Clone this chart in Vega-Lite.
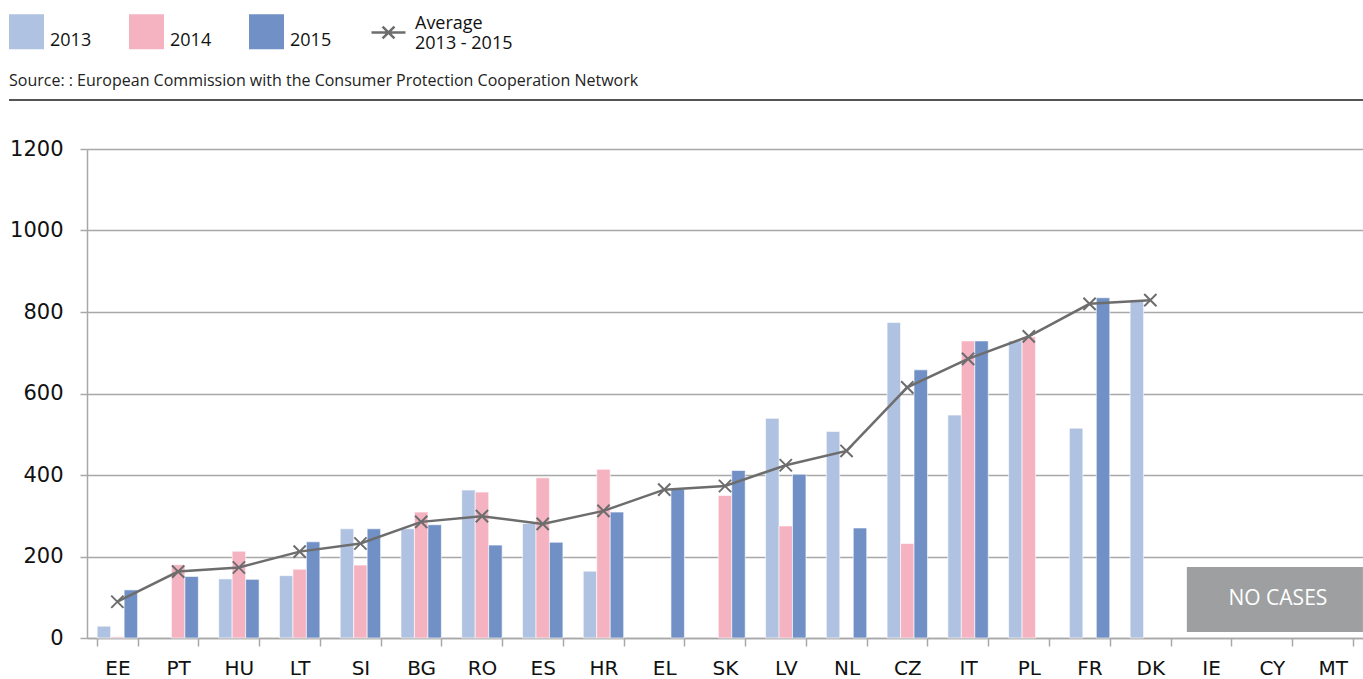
{
  "$schema": "https://vega.github.io/schema/vega-lite/v6.json",
  "autosize": "none",
  "width": 1276,
  "height": 489,
  "padding": {"left": 87, "top": 149, "right": 0, "bottom": 41},
  "background": "white",
  "config": {
    "font": "Open Sans",
    "view": {"stroke": null}
  },
  "title": {
    "text": "Source: : European Commission with the Consumer Protection Cooperation Network",
    "anchor": "start",
    "frame": "group",
    "font": "Open Sans",
    "fontSize": 16,
    "fontWeight": "normal",
    "color": "#222",
    "dx": -78,
    "dy": 88,
    "offset": 0,
    "baseline": "alphabetic"
  },
  "resolve": {"scale": {"x": "independent"}},
  "datasets": {
    "bars": [
      {"country": "EE", "year": "2013", "value": 29},
      {"country": "EE", "year": "2014", "value": 3},
      {"country": "EE", "year": "2015", "value": 118},
      {"country": "PT", "year": "2014", "value": 180},
      {"country": "PT", "year": "2015", "value": 151},
      {"country": "HU", "year": "2013", "value": 145},
      {"country": "HU", "year": "2014", "value": 213},
      {"country": "HU", "year": "2015", "value": 144},
      {"country": "LT", "year": "2013", "value": 153},
      {"country": "LT", "year": "2014", "value": 169},
      {"country": "LT", "year": "2015", "value": 236},
      {"country": "SI", "year": "2013", "value": 268},
      {"country": "SI", "year": "2014", "value": 179},
      {"country": "SI", "year": "2015", "value": 268},
      {"country": "BG", "year": "2013", "value": 268},
      {"country": "BG", "year": "2014", "value": 309},
      {"country": "BG", "year": "2015", "value": 278},
      {"country": "RO", "year": "2013", "value": 363},
      {"country": "RO", "year": "2014", "value": 358},
      {"country": "RO", "year": "2015", "value": 228},
      {"country": "ES", "year": "2013", "value": 281},
      {"country": "ES", "year": "2014", "value": 393},
      {"country": "ES", "year": "2015", "value": 235},
      {"country": "HR", "year": "2013", "value": 164},
      {"country": "HR", "year": "2014", "value": 414},
      {"country": "HR", "year": "2015", "value": 309},
      {"country": "EL", "year": "2015", "value": 365},
      {"country": "SK", "year": "2014", "value": 350},
      {"country": "SK", "year": "2015", "value": 411},
      {"country": "LV", "year": "2013", "value": 539},
      {"country": "LV", "year": "2014", "value": 275},
      {"country": "LV", "year": "2015", "value": 402},
      {"country": "NL", "year": "2013", "value": 507},
      {"country": "NL", "year": "2015", "value": 270},
      {"country": "CZ", "year": "2013", "value": 774},
      {"country": "CZ", "year": "2014", "value": 232},
      {"country": "CZ", "year": "2015", "value": 658},
      {"country": "IT", "year": "2013", "value": 547},
      {"country": "IT", "year": "2014", "value": 729},
      {"country": "IT", "year": "2015", "value": 729},
      {"country": "PL", "year": "2013", "value": 729},
      {"country": "PL", "year": "2014", "value": 739},
      {"country": "FR", "year": "2013", "value": 515},
      {"country": "FR", "year": "2015", "value": 835},
      {"country": "DK", "year": "2013", "value": 828}
    ],
    "avg": [
      {"country": "EE", "series": "Average", "avg": 89},
      {"country": "PT", "series": "Average", "avg": 163},
      {"country": "HU", "series": "Average", "avg": 173},
      {"country": "LT", "series": "Average", "avg": 212},
      {"country": "SI", "series": "Average", "avg": 232},
      {"country": "BG", "series": "Average", "avg": 285},
      {"country": "RO", "series": "Average", "avg": 299},
      {"country": "ES", "series": "Average", "avg": 280},
      {"country": "HR", "series": "Average", "avg": 312},
      {"country": "EL", "series": "Average", "avg": 364},
      {"country": "SK", "series": "Average", "avg": 373},
      {"country": "LV", "series": "Average", "avg": 424},
      {"country": "NL", "series": "Average", "avg": 459},
      {"country": "CZ", "series": "Average", "avg": 615},
      {"country": "IT", "series": "Average", "avg": 685},
      {"country": "PL", "series": "Average", "avg": 740},
      {"country": "FR", "series": "Average", "avg": 820},
      {"country": "DK", "series": "Average", "avg": 829}
    ],
    "nocases": [
      {"start": "IE", "end": "MT", "mid": "CY", "lo": 15, "hi": 174, "center": 96, "label": "NO CASES"}
    ],
    "sep": [{"level": 1320, "from": 0, "to": 1}]
  },
  "layer": [
    {
      "data": {"name": "sep"},
      "mark": {"type": "rule", "color": "#555555", "strokeWidth": 2, "clip": false},
      "encoding": {
        "x": {"field": "from", "type": "quantitative", "scale": {"domain": [0.0576, 1], "nice": false, "zero": false}, "axis": null},
        "x2": {"field": "to"},
        "y": {"field": "level", "type": "quantitative"}
      }
    },
    {
      "layer": [
        {
          "data": {"name": "bars"},
          "mark": {"type": "bar", "stroke": "white", "strokeWidth": 0.6},
          "encoding": {
            "x": {
              "field": "country",
              "type": "nominal",
              "sort": ["EE","PT","HU","LT","SI","BG","RO","ES","HR","EL","SK","LV","NL","CZ","IT","PL","FR","DK","IE","CY","MT"],
              "scale": {
                "domain": ["EE","PT","HU","LT","SI","BG","RO","ES","HR","EL","SK","LV","NL","CZ","IT","PL","FR","DK","IE","CY","MT"],
                "paddingInner": 0.335,
                "paddingOuter": 0.1675
              },
              "axis": {
                "title": null,
                "labelAngle": 0,
                "labelFont": "DejaVu Sans",
                "labelFontSize": 20,
                "labelColor": "#111",
                "labelPadding": 12,
                "tickBand": "extent",
                "tickSize": 8,
                "tickColor": "#a8a8a8",
                "tickWidth": 1.5,
                "domainColor": "#a8a8a8",
                "domainWidth": 1.5,
                "grid": false
              }
            },
            "xOffset": {
              "field": "year",
              "type": "nominal",
              "scale": {"domain": ["2013","2014","2015"], "paddingInner": 0, "paddingOuter": 0}
            },
            "y": {
              "field": "value",
              "type": "quantitative",
              "scale": {"domain": [0, 1200], "nice": false},
              "axis": {
                "title": null,
                "values": [0, 200, 400, 600, 800, 1000, 1200],
                "format": "d",
                "labelFont": "DejaVu Sans",
                "labelFontSize": 21,
                "labelColor": "#111",
                "labelPadding": 17,
                "tickSize": 7,
                "tickColor": "#a8a8a8",
                "tickWidth": 1.5,
                "domainColor": "#a8a8a8",
                "domainWidth": 1.5,
                "gridColor": "#a8a8a8",
                "gridWidth": 1.5
              }
            },
            "color": {
              "field": "year",
              "type": "nominal",
              "scale": {"domain": ["2013","2014","2015"], "range": ["#b0c2e1", "#f5b3c2", "#7191c6"]},
              "legend": {
                "title": null,
                "orient": "none",
                "legendX": -78,
                "legendY": -135,
                "direction": "horizontal",
                "symbolType": "square",
                "symbolSize": 1225,
                "symbolStrokeWidth": 0,
                "labelFont": "Open Sans",
                "labelFontSize": 18,
                "labelColor": "#111",
                "labelBaseline": "top",
                "labelOffset": 6,
                "columnPadding": 37
              }
            }
          }
        },
        {
          "data": {"name": "avg"},
          "mark": {"type": "line", "strokeWidth": 2.5},
          "encoding": {
            "x": {"field": "country", "type": "nominal"},
            "y": {"field": "avg", "type": "quantitative"},
            "stroke": {
              "field": "series",
              "type": "nominal",
              "scale": {"domain": ["Average"], "range": ["#6d6d6d"]},
              "legend": {
                "title": null,
                "orient": "none",
                "legendX": 283,
                "legendY": -135,
                "symbolType": "M-1,0H1M-0.35,-0.35L0.35,0.35M-0.35,0.35L0.35,-0.35",
                "symbolSize": 1156,
                "symbolStrokeWidth": 2.5,
                "symbolFillColor": "transparent",
                "labelFont": "Open Sans",
                "labelFontSize": 18,
                "labelColor": "#111",
                "labelOffset": 8,
                "labelBaseline": "bottom",
                "labelExpr": "['Average', '2013 - 2015']"
              }
            }
          }
        },
        {
          "data": {"name": "avg"},
          "mark": {"type": "point", "shape": "M-1,-1L1,1M-1,1L1,-1", "size": 150, "filled": false, "strokeWidth": 2, "color": "#6d6d6d", "opacity": 1},
          "encoding": {
            "x": {"field": "country", "type": "nominal"},
            "y": {"field": "avg", "type": "quantitative"}
          }
        },
        {
          "data": {"name": "nocases"},
          "mark": {"type": "rect", "color": "#9e9fa0"},
          "encoding": {
            "x": {"field": "start", "type": "nominal", "bandPosition": -0.1},
            "x2": {"field": "end", "bandPosition": 1.25},
            "y": {"field": "lo", "type": "quantitative"},
            "y2": {"field": "hi"}
          }
        },
        {
          "data": {"name": "nocases"},
          "mark": {"type": "text", "color": "white", "font": "Open Sans", "fontSize": 21, "baseline": "middle", "align": "center"},
          "encoding": {
            "x": {"field": "mid", "type": "nominal", "bandPosition": 0.65},
            "y": {"field": "center", "type": "quantitative"},
            "text": {"field": "label"}
          }
        }
      ]
    }
  ]
}
